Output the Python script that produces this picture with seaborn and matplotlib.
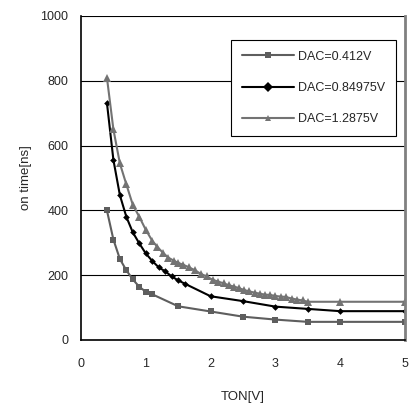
import matplotlib
matplotlib.use("Agg")
import matplotlib.pyplot as plt
import seaborn as sns
import pandas as pd

# Data
x_a = [0.4, 0.5, 0.6, 0.7, 0.8, 0.9, 1.0, 1.1, 1.5, 2.0, 2.5, 3.0, 3.5, 4.0, 5.0]
y_a = [400, 310, 250, 215, 187, 164, 149, 141, 104, 88, 72, 63, 56, 56, 56]

x_b = [0.4, 0.5, 0.6, 0.7, 0.8, 0.9, 1.0, 1.1, 1.2, 1.3, 1.4, 1.5, 1.6, 2.0, 2.5, 3.0, 3.5, 4.0, 5.0]
y_b = [732, 556, 447, 380, 332, 298, 267, 244, 224, 212, 196, 184, 174, 135, 120, 103, 96, 89, 89]

x_c = [0.4, 0.5, 0.6, 0.7, 0.8, 0.9, 1.0, 1.1, 1.18, 1.27, 1.35, 1.43, 1.5, 1.58,
       1.67, 1.76, 1.85, 1.94, 2.03, 2.12, 2.2, 2.28, 2.36, 2.44, 2.52, 2.6, 2.68,
       2.76, 2.84, 2.92, 3.0, 3.08, 3.16, 3.25, 3.33, 3.42, 3.5, 4.0, 5.0]
y_c = [810, 650, 545, 480, 417, 380, 340, 306, 287, 268, 254, 245, 238, 232,
       224, 215, 204, 196, 186, 180, 175, 169, 165, 160, 154, 150, 146,
       143, 140, 139, 136, 134, 133, 128, 125, 122, 118, 118, 118]

labels = ["DAC=0.412V", "DAC=0.84975V", "DAC=1.2875V"]
x_ticks = [0, 1, 2, 3, 4, 5]
y_ticks = [0, 200, 400, 600, 800, 1000]

df = pd.concat([
    pd.DataFrame({"TON": x_a, "on": y_a, "series": labels[0]}),
    pd.DataFrame({"TON": x_b, "on": y_b, "series": labels[1]}),
    pd.DataFrame({"TON": x_c, "on": y_c, "series": labels[2]}),
], ignore_index=True)

sns.set_theme(style="white")
plt.rcParams['font.family'] = ['Liberation Sans', 'DejaVu Sans']

fig = plt.figure(figsize=(4.17, 4.17), dpi=100)
ax = fig.add_axes([81/417, 1 - 340/417, (405-81)/417, (340-16)/417])

palette = {labels[0]: "#5e5e5e", labels[1]: "#000000", labels[2]: "#737373"}
markers = {labels[0]: "s", labels[1]: "D", labels[2]: "^"}

sns.lineplot(data=df, x="TON", y="on", hue="series", style="series",
             palette=palette, markers=markers, dashes=False, ax=ax,
             linewidth=1.5, markersize=5, markeredgewidth=0, sort=False,
             hue_order=labels, style_order=labels)

sizes = {labels[0]: 4.8, labels[1]: 3.4, labels[2]: 5.2}
for line, lab in zip(ax.lines, labels):
    line.set_markersize(sizes[lab])

ax.set_xlim(0, 5)
ax.set_ylim(0, 1000)
ax.set_xticks(x_ticks)
ax.set_yticks(y_ticks)
ax.set_xticklabels([str(t) for t in x_ticks], fontsize=9)
ax.set_yticklabels([str(t) for t in y_ticks], fontsize=9)
ax.yaxis.grid(True, color="black", linewidth=0.8)
ax.xaxis.grid(False)
ax.tick_params(axis="x", direction="in", length=4, width=0.8, color="black", pad=13)
ax.tick_params(axis="y", direction="out", length=0, pad=9)

for s in ["left", "bottom"]:
    ax.spines[s].set_color("black")
    ax.spines[s].set_linewidth(1.2)
ax.spines["top"].set_visible(False)
ax.spines["right"].set_color("#808080")
ax.spines["right"].set_linewidth(2)

ax.set_xlabel("TON[V]", fontsize=9.5, labelpad=15)
ax.set_ylabel("on time[ns]", fontsize=9.5, labelpad=6)

leg = ax.legend(loc="upper left", bbox_to_anchor=((231-81)/324, 1 - (40-16)/324),
                frameon=True, fancybox=False, fontsize=9, handlelength=4.2,
                labelspacing=1.55, borderpad=0.85, handletextpad=0.3, title=None,
                borderaxespad=0)
leg.get_frame().set_edgecolor("black")
leg.get_frame().set_linewidth(0.8)
leg.get_frame().set_alpha(1)

fig.savefig("out.png", dpi=100)
